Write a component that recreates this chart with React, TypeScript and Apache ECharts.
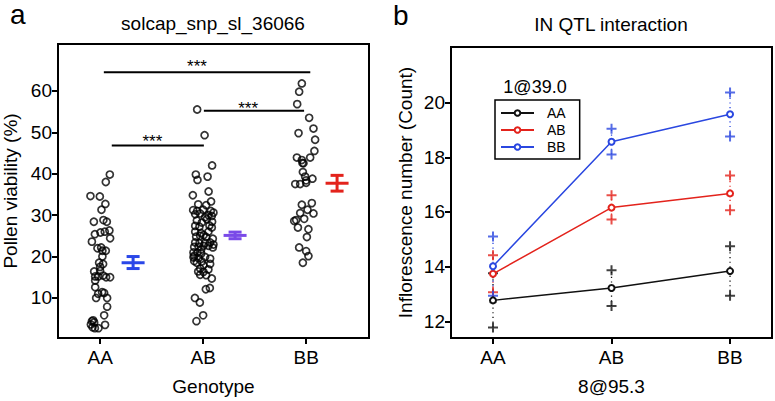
import React, { useEffect, useRef } from "react";
import * as echarts from "echarts";

const FONT = '"Liberation Sans", Arial, Helvetica, sans-serif';

// ---------- Panel a: pollen viability ----------
const genotypes = ["AA", "AB", "BB"];
const pollenTicks = [10, 20, 30, 40, 50, 60];

// [jitter offset from group position, pollen viability %]
const pollenAA: [number, number][] = [
  [0.094, 39.8], [0.055, 38.0], [-0.094, 34.6], [-0.003, 34.5], [0.051, 32.7], [0.013, 31.3],
  [-0.061, 28.4], [0.032, 28.8], [0.065, 28.4], [0.09, 26.3], [0.045, 26.0], [0.003, 25.8],
  [-0.051, 25.4], [0.097, 24.4], [-0.08, 23.6], [-0.026, 22.0], [0.01, 22.2], [0.022, 21.4],
  [0.055, 21.4], [0.022, 20.0], [-0.01, 18.5], [0.029, 18.2], [0.0, 17.5], [-0.058, 16.4],
  [0.0, 16.5], [-0.048, 15.2], [-0.019, 15.2], [-0.048, 14.2], [0.029, 15.4], [0.058, 15.0],
  [0.097, 15.0], [-0.048, 12.6], [0.019, 11.4], [-0.019, 11.0], [0.039, 11.2], [-0.039, 10.0],
  [0.068, 10.0], [0.068, 7.9], [0.039, 5.8], [0.048, 3.5], [-0.08, 4.4], [-0.058, 4.1],
  [-0.09, 3.6], [-0.074, 2.9], [-0.051, 2.7], [-0.016, 2.7], [-0.068, 4.6],
];
const pollenAB: [number, number][] = [
  [-0.058, 55.5], [0.014, 49.3], [0.087, 42.0], [-0.071, 39.8], [-0.055, 38.5], [0.043, 39.3],
  [0.053, 35.7], [-0.1, 34.8], [0.077, 33.3], [-0.048, 32.6], [0.029, 32.4], [-0.097, 31.2],
  [-0.058, 31.0], [0.0, 31.3], [0.074, 31.0], [0.1, 30.6], [-0.077, 30.2], [-0.029, 30.4],
  [0.051, 30.0], [0.084, 29.8], [-0.061, 28.7], [-0.013, 28.2], [0.036, 29.0], [0.019, 29.5],
  [0.087, 28.4], [-0.077, 27.4], [-0.036, 27.2], [0.061, 27.5], [0.084, 27.0], [-0.077, 26.0],
  [-0.022, 25.7], [0.051, 26.0], [0.005, 25.2], [-0.068, 24.8], [-0.029, 25.0], [0.029, 24.7],
  [0.094, 24.3], [-0.077, 23.4], [-0.036, 23.2], [0.019, 23.3], [0.068, 23.4], [0.1, 22.9],
  [-0.087, 22.3], [-0.045, 22.4], [0.003, 22.6], [0.051, 22.6], [0.094, 22.2], [-0.019, 21.7],
  [-0.094, 21.0], [-0.055, 21.0], [-0.019, 20.7], [-0.087, 20.2], [-0.094, 19.8], [-0.045, 19.6],
  [0.019, 19.9], [0.068, 19.5], [-0.061, 18.5], [-0.013, 18.8], [0.003, 17.9], [0.068, 18.2],
  [-0.087, 18.9], [-0.029, 17.1], [0.051, 16.9], [0.003, 16.3], [0.029, 15.5], [-0.029, 15.6],
  [0.084, 14.7], [-0.048, 16.4], [0.026, 12.1], [0.065, 12.4], [-0.08, 10.0], [-0.032, 8.9],
  [0.0, 5.8], [-0.065, 4.4],
];
const pollenBB: [number, number][] = [
  [-0.042, 61.8], [-0.068, 59.8], [-0.087, 56.8], [0.029, 53.5], [0.071, 50.9], [-0.074, 49.8],
  [0.087, 48.2], [0.08, 45.5], [-0.09, 43.9], [-0.042, 43.3], [-0.026, 42.5], [0.039, 43.9],
  [-0.036, 42.6], [-0.032, 40.4], [-0.01, 39.3], [0.061, 38.8], [0.0, 38.4], [-0.106, 37.5],
  [-0.058, 37.5], [0.0, 37.8], [-0.042, 32.5], [0.055, 32.9], [0.013, 31.3], [-0.058, 30.5],
  [0.071, 30.4], [-0.097, 28.8], [-0.019, 29.1], [-0.116, 28.6], [-0.08, 27.0], [0.022, 26.6],
  [0.007, 24.7], [-0.068, 22.2], [0.0, 21.3], [0.022, 20.1], [-0.032, 18.5],
];

const meanX = [1.32, 2.31, 3.3];
const pollenMean = [18.5, 25.1, 37.7];
const pollenLow = [17.1, 24.3, 35.8];
const pollenHigh = [20.0, 25.9, 39.6];
const meanColors = ["#2a47e8", "#7a4ae8", "#e3231c"];

const sigFrom = [1.036, 2.007, 1.113];
const sigTo = [3.04, 2.98, 2.007];
const sigY = [64.5, 55.2, 46.8];
const starX = [1.94, 2.437, 1.507];
const starY = [65.97, 55.66, 47.8];
const starText = "***";

// ---------- Panel b: IN QTL interaction ----------
const inTicks = [12, 14, 16, 18, 20];
const inSeriesNames = ["AA", "AB", "BB"];
const inColors = ["#111111", "#e3231c", "#2a47e0"];
const inMeanAA = [12.77, 13.22, 13.84];
const inMeanAB = [13.74, 16.16, 16.68];
const inMeanBB = [14.02, 18.57, 19.57];
const inLowAA = [11.78, 12.56, 12.94];
const inHighAA = [13.76, 13.87, 14.75];
const inLowAB = [13.07, 15.73, 16.06];
const inHighAB = [14.42, 16.61, 17.33];
const inLowBB = [12.94, 18.1, 18.76];
const inHighBB = [15.1, 19.04, 20.37];

const PLUS = "path://M4,0H6V4H10V6H6V10H4V6H0V4H4Z";

export default function App() {
  const ref = useRef<HTMLDivElement>(null);

  useEffect(() => {
    if (!ref.current) return;
    const chart = echarts.init(ref.current, null, { renderer: "svg" });

    const scatterData = (pts: [number, number][], g: number) =>
      pts.map(([j, v]) => [g + j, v]);

    const tickStyle = { length: 6, lineStyle: { color: "#000", width: 2 } };
    const labelStyle = { fontSize: 19, color: "#000", fontFamily: FONT };
    const nameStyle = { fontSize: 19, color: "#000", fontFamily: FONT };

    const inMeans = [inMeanAA, inMeanAB, inMeanBB];
    const inLows = [inLowAA, inLowAB, inLowBB];
    const inHighs = [inHighAA, inHighAB, inHighBB];

    const rightSeries: any[] = [];
    inSeriesNames.forEach((name, s) => {
      rightSeries.push({
        type: "custom",
        name: name + " range",
        xAxisIndex: 1,
        yAxisIndex: 1,
        silent: true,
        data: inMeans[s].map((_, i) => [i + 1, inLows[s][i], inHighs[s][i]]),
        encode: { x: 0, y: [1, 2] },
        renderItem: (params: any, api: any) => {
          const x = api.value(0);
          const p1 = api.coord([x, api.value(1)]);
          const p2 = api.coord([x, api.value(2)]);
          return {
            type: "line",
            shape: { x1: p1[0], y1: p1[1], x2: p2[0], y2: p2[1] },
            style: { stroke: inColors[s], lineWidth: 1.3, lineDash: [1.2, 3.5] },
          };
        },
      });
      rightSeries.push({
        type: "scatter",
        name: name + " ci",
        xAxisIndex: 1,
        yAxisIndex: 1,
        symbol: PLUS,
        symbolSize: 10,
        itemStyle: { color: inColors[s] },
        data: inMeans[s].flatMap((_, i) => [
          [i + 1, inLows[s][i]],
          [i + 1, inHighs[s][i]],
        ]),
      });
    });
    inSeriesNames.forEach((name, s) => {
      rightSeries.push({
        type: "line",
        name,
        xAxisIndex: 1,
        yAxisIndex: 1,
        symbol: "emptyCircle",
        symbolSize: 6,
        lineStyle: { color: inColors[s], width: 1.5 },
        itemStyle: { color: inColors[s], borderWidth: 1.6 },
        data: inMeans[s].map((v, i) => [i + 1, v]),
      });
    });

    const option: any = {
      animation: false,
      textStyle: { fontFamily: FONT },
      grid: [
        { left: 57, top: 44, width: 312, height: 301, show: true, borderColor: "#000", borderWidth: 2 },
        { left: 451, top: 47, width: 321, height: 299, show: true, borderColor: "#000", borderWidth: 2 },
      ],
      xAxis: [
        {
          gridIndex: 0,
          type: "value",
          min: 0.591,
          max: 3.61,
          axisLine: { show: false },
          splitLine: { show: false },
          axisTick: { show: true, customValues: [1, 2, 3], ...tickStyle },
          axisLabel: {
            customValues: [1, 2, 3],
            formatter: (v: number) => genotypes[Math.round(v) - 1],
            margin: 10,
            ...labelStyle,
          },
          name: "Genotype",
          nameLocation: "middle",
          nameGap: 39,
          nameTextStyle: nameStyle,
        },
        {
          gridIndex: 1,
          type: "value",
          min: 0.6456,
          max: 3.354,
          axisLine: { show: false },
          splitLine: { show: false },
          axisTick: { show: true, customValues: [1, 2, 3], ...tickStyle },
          axisLabel: {
            customValues: [1, 2, 3],
            formatter: (v: number) => genotypes[Math.round(v) - 1],
            margin: 10,
            ...labelStyle,
          },
          name: "8@95.3",
          nameLocation: "middle",
          nameGap: 39,
          nameTextStyle: nameStyle,
        },
      ],
      yAxis: [
        {
          gridIndex: 0,
          type: "value",
          min: 0.33,
          max: 71.32,
          axisLine: { show: false },
          splitLine: { show: false },
          axisTick: { show: true, customValues: pollenTicks, ...tickStyle },
          axisLabel: { customValues: pollenTicks, margin: 6, ...labelStyle },
          name: "Pollen viability (%)",
          nameLocation: "middle",
          nameGap: 38,
          nameTextStyle: nameStyle,
        },
        {
          gridIndex: 1,
          type: "value",
          min: 11.395,
          max: 22.03,
          axisLine: { show: false },
          splitLine: { show: false },
          axisTick: { show: true, customValues: inTicks, ...tickStyle },
          axisLabel: { customValues: inTicks, margin: 6, ...labelStyle },
          name: "Inflorescence number (Count)",
          nameLocation: "middle",
          nameGap: 36,
          nameTextStyle: nameStyle,
        },
      ],
      legend: {
        data: inSeriesNames,
        orient: "vertical",
        left: 495,
        top: 100,
        padding: [6, 14, 5, 5],
        itemWidth: 33,
        itemHeight: 7,
        itemGap: 3,
        borderColor: "#000",
        borderWidth: 1.5,
        textStyle: { fontSize: 14, color: "#000", lineHeight: 14, fontFamily: FONT, padding: [0, 0, 0, 8] },
      },
      graphic: [
        { type: "text", x: 10, y: 14.3, style: { text: "a", fontSize: 28, fontFamily: FONT, fill: "#000", textVerticalAlign: "middle" } },
        { type: "text", x: 393, y: 15.3, style: { text: "b", fontSize: 28, fontFamily: FONT, fill: "#000", textVerticalAlign: "middle" } },
        { type: "text", x: 213, y: 23, style: { text: "solcap_snp_sl_36066", fontSize: 19, fontFamily: FONT, fill: "#000", textAlign: "center", textVerticalAlign: "middle" } },
        { type: "text", x: 611, y: 24.5, style: { text: "IN QTL interaction", fontSize: 19, fontFamily: FONT, fill: "#000", textAlign: "center", textVerticalAlign: "middle" } },
        { type: "text", x: 535, y: 86.5, style: { text: "1@39.0", fontSize: 18, fontFamily: FONT, fill: "#000", textAlign: "center", textVerticalAlign: "middle" } },
      ],
      series: [
        ...[pollenAA, pollenAB, pollenBB].map((pts, g) => ({
          type: "scatter",
          name: genotypes[g] + " pollen",
          xAxisIndex: 0,
          yAxisIndex: 0,
          symbol: "circle",
          symbolSize: 7,
          itemStyle: { color: "transparent", borderColor: "#000", borderWidth: 1.7 },
          data: scatterData(pts, g + 1),
        })),
        {
          type: "custom",
          name: "mean",
          xAxisIndex: 0,
          yAxisIndex: 0,
          silent: true,
          data: meanX.map((x, i) => [x, pollenMean[i], pollenLow[i], pollenHigh[i]]),
          encode: { x: 0, y: [1, 2, 3] },
          renderItem: (params: any, api: any) => {
            const i = params.dataIndex;
            const x = api.value(0);
            const pm = api.coord([x, api.value(1)]);
            const pl = api.coord([x, api.value(2)]);
            const ph = api.coord([x, api.value(3)]);
            const st = { stroke: meanColors[i], lineWidth: 3 };
            return {
              type: "group",
              children: [
                { type: "line", shape: { x1: pm[0], y1: pl[1], x2: pm[0], y2: ph[1] }, style: st },
                { type: "line", shape: { x1: pm[0] - 6.5, y1: pl[1], x2: pm[0] + 6.5, y2: pl[1] }, style: st },
                { type: "line", shape: { x1: pm[0] - 6.5, y1: ph[1], x2: pm[0] + 6.5, y2: ph[1] }, style: st },
                { type: "line", shape: { x1: pm[0] - 11.5, y1: pm[1], x2: pm[0] + 11.5, y2: pm[1] }, style: st },
              ],
            };
          },
        },
        {
          type: "custom",
          name: "significance",
          xAxisIndex: 0,
          yAxisIndex: 0,
          silent: true,
          data: sigFrom.map((x1, i) => [x1, sigTo[i], sigY[i], starX[i], starY[i]]),
          encode: { x: [0, 1, 3], y: [2, 4] },
          renderItem: (params: any, api: any) => {
            const p1 = api.coord([api.value(0), api.value(2)]);
            const p2 = api.coord([api.value(1), api.value(2)]);
            const ps = api.coord([api.value(3), api.value(4)]);
            return {
              type: "group",
              children: [
                { type: "line", shape: { x1: p1[0], y1: p1[1], x2: p2[0], y2: p2[1] }, style: { stroke: "#000", lineWidth: 2 } },
                {
                  type: "text",
                  x: ps[0],
                  y: ps[1],
                  style: { text: starText, fontSize: 17, fontFamily: FONT, fill: "#000", textAlign: "center", textVerticalAlign: "middle" },
                },
              ],
            };
          },
        },
        ...rightSeries,
      ],
    };

    chart.setOption(option);
    return () => chart.dispose();
  }, []);

  return (
    <div
      ref={ref}
      style={{ position: "absolute", left: 0, top: 0, width: 775, height: 401, background: "#fff" }}
    />
  );
}
